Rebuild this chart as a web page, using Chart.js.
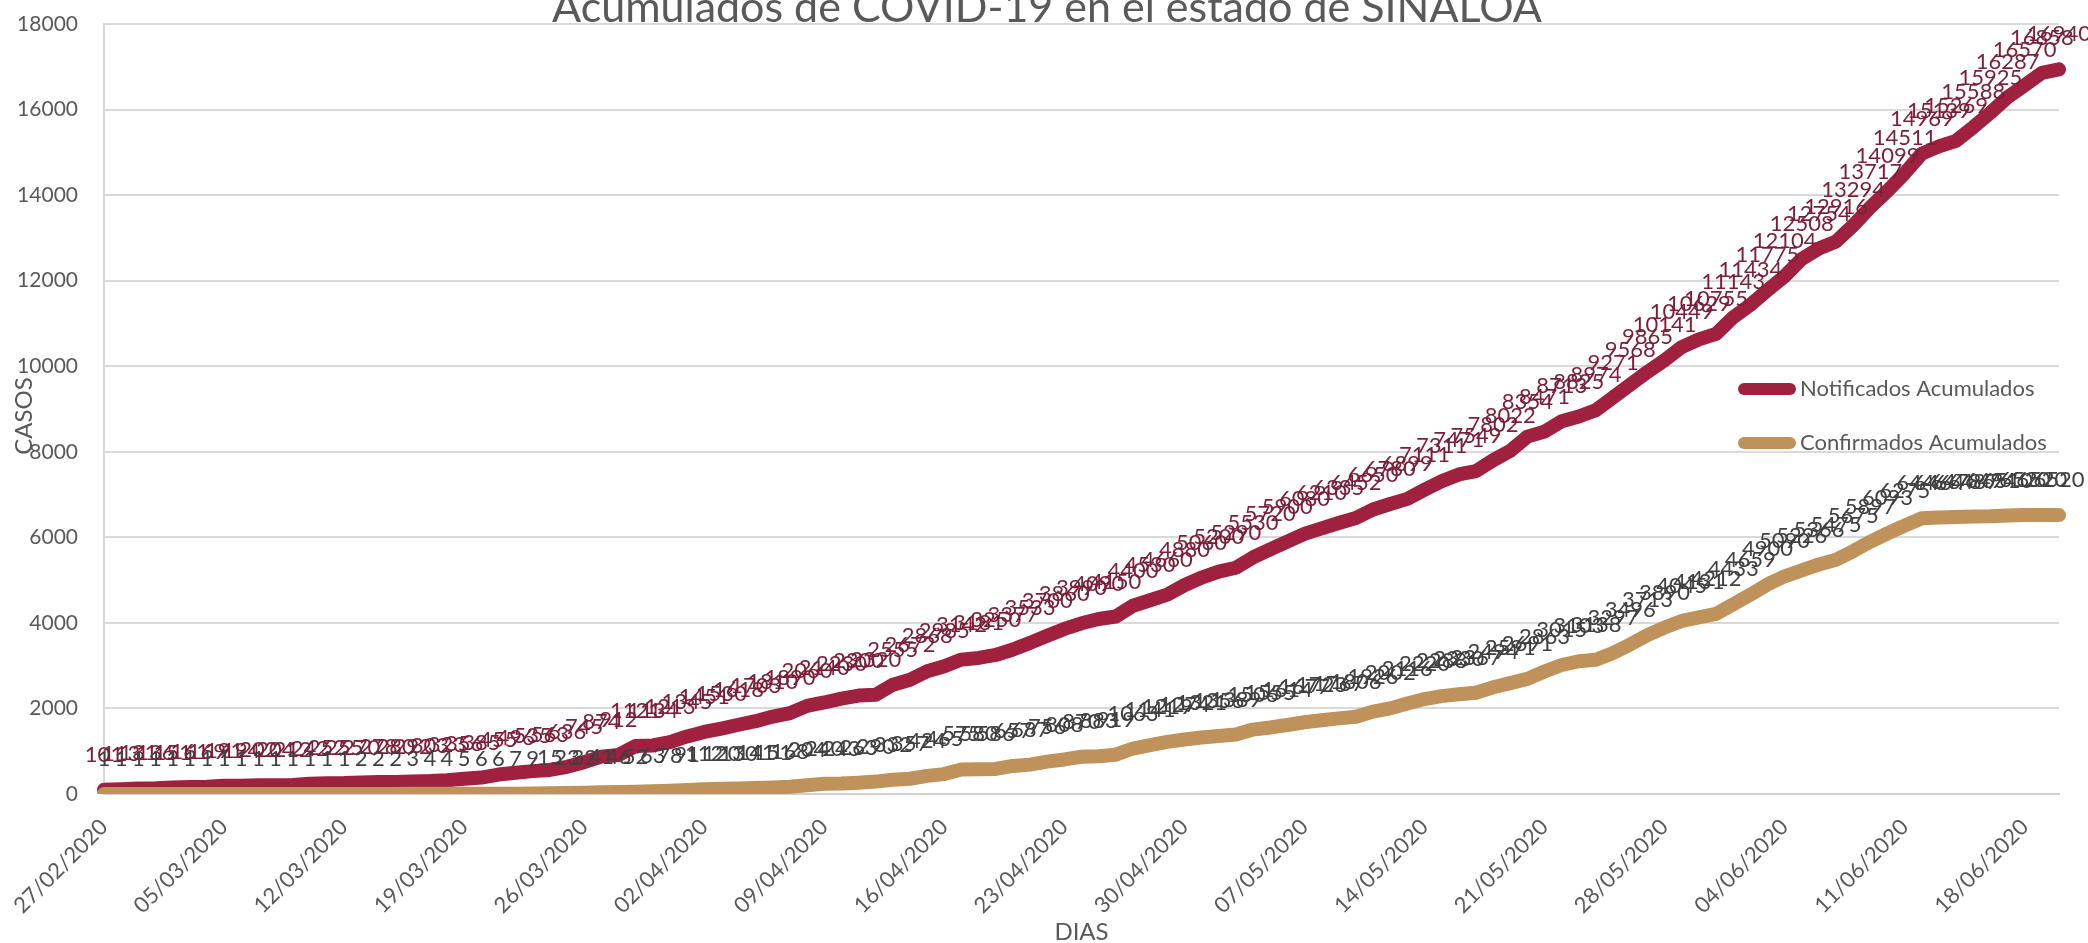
<!DOCTYPE html>
<html lang="es">
<head>
<meta charset="utf-8">
<title>Acumulados de COVID-19 en el estado de SINALOA</title>
<script src="https://cdn.jsdelivr.net/npm/chart.js@4.4.1/dist/chart.umd.min.js"></script>
<style>
  html, body { margin: 0; padding: 0; background: #ffffff; }
  canvas { display: block; }
</style>
</head>
<body>
<canvas id="grafica" width="2088" height="943"></canvas>
<script>
// dias (categorias del eje X)
const fechas = [
  '27/02/2020', '28/02/2020', '29/02/2020',
  '01/03/2020', '02/03/2020', '03/03/2020', '04/03/2020', '05/03/2020', '06/03/2020', '07/03/2020',
  '08/03/2020', '09/03/2020', '10/03/2020', '11/03/2020', '12/03/2020', '13/03/2020', '14/03/2020',
  '15/03/2020', '16/03/2020', '17/03/2020', '18/03/2020', '19/03/2020', '20/03/2020', '21/03/2020',
  '22/03/2020', '23/03/2020', '24/03/2020', '25/03/2020', '26/03/2020', '27/03/2020', '28/03/2020',
  '29/03/2020', '30/03/2020', '31/03/2020',
  '01/04/2020', '02/04/2020', '03/04/2020', '04/04/2020', '05/04/2020', '06/04/2020', '07/04/2020',
  '08/04/2020', '09/04/2020', '10/04/2020', '11/04/2020', '12/04/2020', '13/04/2020', '14/04/2020',
  '15/04/2020', '16/04/2020', '17/04/2020', '18/04/2020', '19/04/2020', '20/04/2020', '21/04/2020',
  '22/04/2020', '23/04/2020', '24/04/2020', '25/04/2020', '26/04/2020', '27/04/2020', '28/04/2020',
  '29/04/2020', '30/04/2020',
  '01/05/2020', '02/05/2020', '03/05/2020', '04/05/2020', '05/05/2020', '06/05/2020', '07/05/2020',
  '08/05/2020', '09/05/2020', '10/05/2020', '11/05/2020', '12/05/2020', '13/05/2020', '14/05/2020',
  '15/05/2020', '16/05/2020', '17/05/2020', '18/05/2020', '19/05/2020', '20/05/2020', '21/05/2020',
  '22/05/2020', '23/05/2020', '24/05/2020', '25/05/2020', '26/05/2020', '27/05/2020', '28/05/2020',
  '29/05/2020', '30/05/2020', '31/05/2020',
  '01/06/2020', '02/06/2020', '03/06/2020', '04/06/2020', '05/06/2020', '06/06/2020', '07/06/2020',
  '08/06/2020', '09/06/2020', '10/06/2020', '11/06/2020', '12/06/2020', '13/06/2020', '14/06/2020',
  '15/06/2020', '16/06/2020', '17/06/2020', '18/06/2020', '19/06/2020', '20/06/2020'
];

// fechas que llevan etiqueta en el eje
const marcasEje = [
  '27/02/2020', '05/03/2020', '12/03/2020', '19/03/2020', '26/03/2020', '02/04/2020',
  '09/04/2020', '16/04/2020', '23/04/2020', '30/04/2020', '07/05/2020', '14/05/2020',
  '21/05/2020', '28/05/2020', '04/06/2020', '11/06/2020', '18/06/2020'
];

const notificados = [
  101, 113, 131, 136, 151, 161, 169, 191, 194, 202,
  204, 212, 242, 252, 255, 270, 278, 280, 292, 303,
  323, 356, 385, 455, 496, 535, 563, 636, 745, 874,
  912, 1121, 1134, 1213, 1345, 1451, 1530, 1618, 1703, 1810,
  1890, 2060, 2140, 2230, 2300, 2320, 2555, 2672, 2868, 2985,
  3142, 3181, 3250, 3377, 3533, 3700, 3860, 3990, 4090, 4150,
  4400, 4530, 4660, 4880, 5060, 5200, 5290, 5530, 5720, 5900,
  6080, 6210, 6335, 6452, 6650, 6780, 6899, 7111, 7311, 7471,
  7549, 7802, 8022, 8354, 8471, 8713, 8825, 8974, 9271, 9568,
  9865, 10141, 10449, 10629, 10755, 11143, 11434, 11775, 12104, 12508,
  12754, 12916, 13294, 13717, 14099, 14511, 14969, 15139, 15269, 15588,
  15925, 16287, 16570, 16858, 16940
];

const confirmados = [
  1, 1, 1, 1, 1, 1, 1, 1, 1, 1,
  1, 1, 1, 1, 1, 2, 2, 2, 3, 4,
  4, 5, 6, 6, 7, 9, 15, 23, 32, 41,
  46, 52, 63, 78, 91, 112, 120, 130, 141, 151,
  168, 204, 240, 243, 263, 290, 332, 357, 424, 465,
  575, 580, 586, 657, 687, 756, 808, 870, 883, 919,
  1063, 1141, 1219, 1274, 1321, 1356, 1389, 1506, 1555, 1614,
  1677, 1723, 1767, 1806, 1926, 2002, 2116, 2220, 2288, 2330,
  2367, 2494, 2591, 2691, 2863, 3015, 3103, 3138, 3297, 3496,
  3713, 3890, 4045, 4131, 4212, 4433, 4659, 4900, 5090, 5226,
  5366, 5475, 5675, 5897, 6093, 6275, 6446, 6464, 6478, 6487,
  6494, 6510, 6520, 6520, 6520
];

const rojo = '#A0203F';
const dorado = '#BE925A';
const grisTexto = '#595959';

// fondo blanco
const fondo = {
  id: 'fondo',
  beforeDraw(chart) {
    const c = chart.ctx;
    c.save();
    c.fillStyle = '#ffffff';
    c.fillRect(0, 0, chart.width, chart.height);
    c.restore();
  }
};

// etiquetas de valor sobre cada punto
const etiquetas = {
  id: 'etiquetas',
  afterDatasetsDraw(chart) {
    const c = chart.ctx;
    const colores = ['#7B1E38', '#404040'];
    c.save();
    c.font = '22px Lato';
    c.textAlign = 'center';
    c.textBaseline = 'middle';
    chart.data.datasets.forEach((ds, i) => {
      const meta = chart.getDatasetMeta(i);
      c.fillStyle = colores[i];
      meta.data.forEach((p, j) => {
        c.fillText(String(ds.data[j]), p.x, p.y - 35);
      });
    });
    c.restore();
  }
};

// titulo, titulos de ejes y leyenda
const adornos = {
  id: 'adornos',
  afterDraw(chart) {
    const c = chart.ctx;
    const area = chart.chartArea;
    c.save();
    c.fillStyle = grisTexto;

    c.font = '43px Lato';
    c.textAlign = 'center';
    c.textBaseline = 'alphabetic';
    c.fillText('Acumulados de COVID-19 en el estado de SINALOA', 1047, 22);

    c.font = '24px Lato';
    c.textBaseline = 'middle';
    c.fillText('DIAS', (area.left + area.right) / 2, 932);

    c.save();
    c.translate(24, 416);
    c.rotate(-Math.PI / 2);
    c.fillText('CASOS', 0, 0);
    c.restore();

    const series = chart.data.datasets;
    const filas = [389, 443];
    c.textAlign = 'left';
    c.font = '22px Lato';
    series.forEach((ds, i) => {
      c.strokeStyle = ds.borderColor;
      c.lineWidth = 12;
      c.lineCap = 'round';
      c.beginPath();
      c.moveTo(1744, filas[i]);
      c.lineTo(1790, filas[i]);
      c.stroke();
      c.fillStyle = grisTexto;
      c.fillText(ds.label, 1800, filas[i]);
    });
    c.restore();
  }
};

const ctx = document.getElementById('grafica').getContext('2d');

new Chart(ctx, {
  type: 'line',
  data: {
    labels: fechas,
    datasets: [
      {
        label: 'Notificados Acumulados',
        data: notificados,
        borderColor: rojo,
        backgroundColor: rojo,
        borderWidth: 14,
        borderCapStyle: 'round',
        borderJoinStyle: 'round',
        pointRadius: 0,
        tension: 0,
        order: 1
      },
      {
        label: 'Confirmados Acumulados',
        data: confirmados,
        borderColor: dorado,
        backgroundColor: dorado,
        borderWidth: 14,
        borderCapStyle: 'round',
        borderJoinStyle: 'round',
        pointRadius: 0,
        tension: 0,
        order: 0
      }
    ]
  },
  options: {
    responsive: false,
    animation: false,
    devicePixelRatio: 1,
    layout: { padding: { top: 24, right: 29, left: 0, bottom: 0 } },
    plugins: {
      legend: { display: false },
      title: { display: false },
      tooltip: { enabled: false }
    },
    scales: {
      x: {
        grid: { display: false, drawTicks: false },
        border: { color: '#D0D0D0', width: 2 },
        ticks: {
          autoSkip: false,
          minRotation: 45,
          maxRotation: 45,
          padding: 20,
          color: grisTexto,
          font: { family: 'Lato', size: 22 },
          callback: function (valor) {
            const f = this.getLabelForValue(valor);
            return marcasEje.includes(f) ? f : '';
          }
        },
        afterFit(escala) {
          escala.height = 149;
          escala.paddingLeft = 0;
          escala.paddingRight = 0;
        }
      },
      y: {
        min: 0,
        max: 18000,
        grid: { color: '#D9D9D9', lineWidth: 2, drawTicks: false },
        border: { color: '#D9D9D9', width: 2 },
        ticks: {
          stepSize: 2000,
          padding: 26,
          color: grisTexto,
          font: { family: 'Lato', size: 21 },
          callback: (valor) => String(valor)
        },
        afterFit(escala) {
          escala.width = 104;
          escala.paddingTop = 0;
          escala.paddingBottom = 0;
        }
      }
    }
  },
  plugins: [fondo, etiquetas, adornos]
});
</script>
</body>
</html>
